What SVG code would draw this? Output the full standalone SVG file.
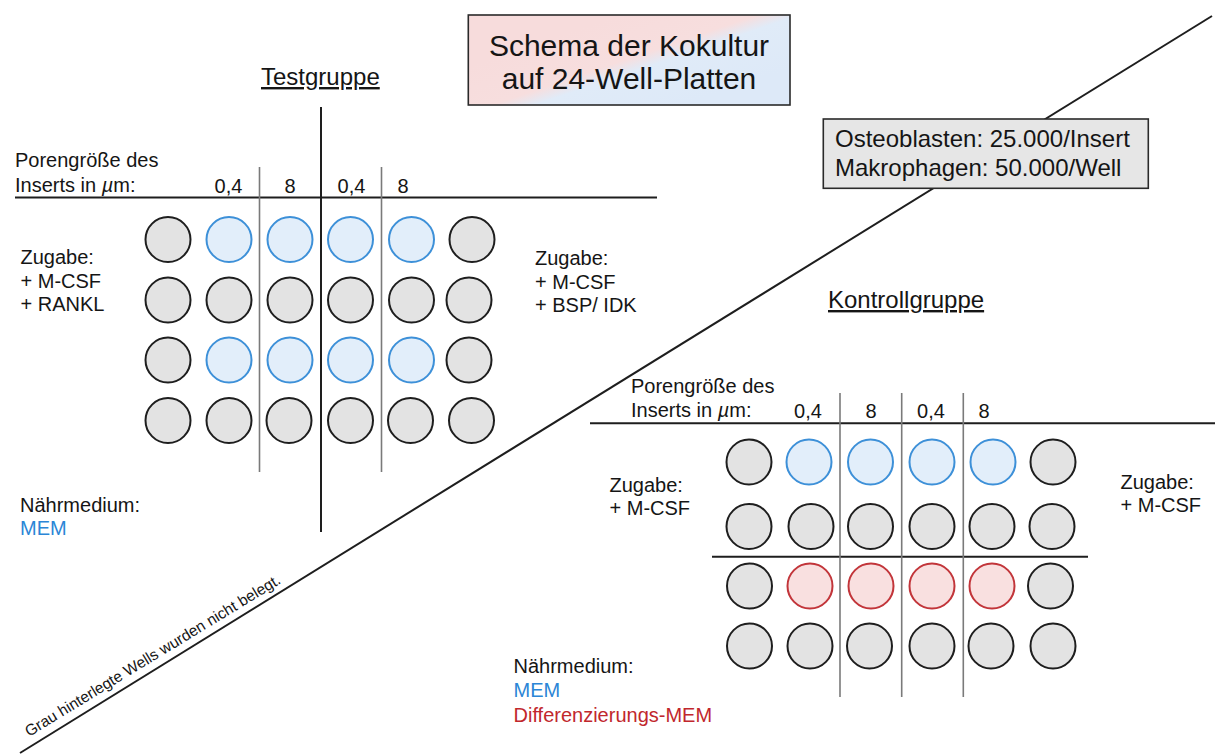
<svg xmlns="http://www.w3.org/2000/svg" width="1215" height="755" viewBox="0 0 1215 755">
<defs>
<style>
.t{font-family:"Liberation Sans",Arial,Helvetica,sans-serif;fill:#151515}
.f20{font-size:20px}
.f24{font-size:24px}
.f30{font-size:30px}
.mid{text-anchor:middle}
.ul{text-decoration:underline}
.blueT{fill:#2b86d6}
.redT{fill:#c1272d}
.w{stroke:#1e1e1e;stroke-width:2;fill:#e3e3e3}
.b{stroke:#3d90d8;stroke-width:2;fill:#e2eefa}
.r{stroke:#c2353a;stroke-width:2;fill:#f9e0e0}
.rule{stroke:#1e1e1e;stroke-width:2;fill:none}
.gray{stroke:#7a7a7a;stroke-width:1.6;fill:none}
.box{stroke:#2a2a2a;stroke-width:1.6}
</style>
<linearGradient id="titleGrad" gradientUnits="userSpaceOnUse" x1="628" y1="12" x2="662" y2="112">
<stop offset="0" stop-color="#f7dcdc"/>
<stop offset="0.42" stop-color="#f7dede"/>
<stop offset="0.55" stop-color="#e0ebf8"/>
<stop offset="1" stop-color="#dde9f8"/>
</linearGradient>
</defs>
<rect width="1215" height="755" fill="#ffffff"/>

<g id="connectors">
<line class="rule" x1="20" y1="753" x2="1212" y2="16" stroke-width="1.8"/>
<!-- Testgruppe grid lines -->
<line class="rule" x1="15" y1="197.5" x2="657" y2="197.5"/>
<line class="rule" x1="321" y1="107" x2="321" y2="532"/>
<line class="gray" x1="259.5" y1="167" x2="259.5" y2="472"/>
<line class="gray" x1="381.5" y1="167" x2="381.5" y2="472"/>
<!-- Kontrollgruppe grid lines -->
<line class="rule" x1="590" y1="423.3" x2="1215" y2="423.3"/>
<line class="rule" x1="712" y1="556.7" x2="1088" y2="556.7"/>
<line class="gray" x1="840" y1="393" x2="840" y2="697"/>
<line class="gray" x1="901.7" y1="393" x2="901.7" y2="697"/>
<line class="gray" x1="963.3" y1="393" x2="963.3" y2="697"/>
</g>

<g id="title">
<rect class="box" x="468.3" y="15" width="321.7" height="90" fill="url(#titleGrad)"/>
<text class="t f30 mid" x="629" y="56">Schema der Kokultur</text>
<text class="t f30 mid" x="629" y="89">auf 24-Well-Platten</text>
</g>

<g id="info">
<rect class="box" x="823.3" y="119" width="325" height="69.3" fill="#e6e6e6"/>
<text class="t f24" x="835" y="146.7">Osteoblasten: 25.000/Insert</text>
<text class="t f24" x="835" y="176">Makrophagen: 50.000/Well</text>
</g>

<g id="note">
<text class="t" font-size="15.5" transform="translate(29,737) rotate(-31.4)">Grau hinterlegte Wells wurden nicht belegt.</text>
</g>

<g id="testgruppe">
<text class="t f24 ul" x="261" y="85">Testgruppe</text>
<text class="t f20" x="15" y="167">Porengröße des</text>
<text class="t f20" x="15" y="192">Inserts in <tspan font-style="italic">µ</tspan>m:</text>
<text class="t f20 mid" x="228.5" y="193">0,4</text>
<text class="t f20 mid" x="290" y="193">8</text>
<text class="t f20 mid" x="351.5" y="193">0,4</text>
<text class="t f20 mid" x="403" y="193">8</text>
<text class="t f20" x="20.5" y="264">Zugabe:</text>
<text class="t f20" x="20.5" y="287.5">+ M-CSF</text>
<text class="t f20" x="20.5" y="311">+ RANKL</text>
<text class="t f20" x="535" y="265">Zugabe:</text>
<text class="t f20" x="535" y="288.5">+ M-CSF</text>
<text class="t f20" x="535" y="312">+ BSP/ IDK</text>
<text class="t f20" x="20" y="511.5">Nährmedium:</text>
<text class="t f20 blueT" x="20" y="535">MEM</text>
<g id="test-wells">
<circle class="w" cx="168" cy="239.5" r="22.5"/>
<circle class="b" cx="229" cy="239.5" r="22.5"/>
<circle class="b" cx="290" cy="239.5" r="22.5"/>
<circle class="b" cx="350.5" cy="239.5" r="22.5"/>
<circle class="b" cx="411.5" cy="239.5" r="22.5"/>
<circle class="w" cx="472" cy="239.5" r="22.5"/>
<circle class="w" cx="168" cy="300" r="22.5"/>
<circle class="w" cx="229" cy="300" r="22.5"/>
<circle class="w" cx="290" cy="300" r="22.5"/>
<circle class="w" cx="350.5" cy="300" r="22.5"/>
<circle class="w" cx="411.5" cy="300" r="22.5"/>
<circle class="w" cx="469" cy="300" r="22.5"/>
<circle class="w" cx="168" cy="360" r="22.5"/>
<circle class="b" cx="229" cy="360" r="22.5"/>
<circle class="b" cx="290" cy="360" r="22.5"/>
<circle class="b" cx="350.5" cy="360" r="22.5"/>
<circle class="b" cx="411.5" cy="360" r="22.5"/>
<circle class="w" cx="469" cy="360" r="22.5"/>
<circle class="w" cx="168" cy="420.5" r="22.5"/>
<circle class="w" cx="229" cy="420.5" r="22.5"/>
<circle class="w" cx="289" cy="420.5" r="22.5"/>
<circle class="w" cx="350.5" cy="420.5" r="22.5"/>
<circle class="w" cx="410.5" cy="420.5" r="22.5"/>
<circle class="w" cx="471.5" cy="420.5" r="22.5"/>
</g>
</g>

<g id="kontrollgruppe">
<text class="t f24 ul" x="828" y="308">Kontrollgruppe</text>
<text class="t f20" x="631" y="393">Porengröße des</text>
<text class="t f20" x="631" y="417">Inserts in <tspan font-style="italic">µ</tspan>m:</text>
<text class="t f20 mid" x="808" y="417.5">0,4</text>
<text class="t f20 mid" x="871" y="417.5">8</text>
<text class="t f20 mid" x="931" y="417.5">0,4</text>
<text class="t f20 mid" x="984" y="417.5">8</text>
<text class="t f20" x="609.5" y="491.5">Zugabe:</text>
<text class="t f20" x="609.5" y="515">+ M-CSF</text>
<text class="t f20" x="1120.5" y="488.5">Zugabe:</text>
<text class="t f20" x="1120.5" y="512">+ M-CSF</text>
<text class="t f20" x="513.5" y="672.5">Nährmedium:</text>
<text class="t f20 blueT" x="513.5" y="697">MEM</text>
<text class="t f20 redT" x="513.5" y="721.5">Differenzierungs-MEM</text>
<g id="control-wells">
<circle class="w" cx="749" cy="462" r="22.5"/>
<circle class="b" cx="809" cy="462" r="22.5"/>
<circle class="b" cx="870.5" cy="462" r="22.5"/>
<circle class="b" cx="932" cy="462" r="22.5"/>
<circle class="b" cx="993" cy="462" r="22.5"/>
<circle class="w" cx="1053" cy="462" r="22.5"/>
<circle class="w" cx="749" cy="526.5" r="22.5"/>
<circle class="w" cx="811" cy="526.5" r="22.5"/>
<circle class="w" cx="870.5" cy="526.5" r="22.5"/>
<circle class="w" cx="932" cy="526.5" r="22.5"/>
<circle class="w" cx="992" cy="526.5" r="22.5"/>
<circle class="w" cx="1052" cy="526.5" r="22.5"/>
<circle class="w" cx="749.5" cy="586" r="22.5"/>
<circle class="r" cx="810" cy="586" r="22.5"/>
<circle class="r" cx="871" cy="586" r="22.5"/>
<circle class="r" cx="932" cy="586" r="22.5"/>
<circle class="r" cx="992" cy="586" r="22.5"/>
<circle class="w" cx="1050.5" cy="586" r="22.5"/>
<circle class="w" cx="749.5" cy="646" r="22.5"/>
<circle class="w" cx="810" cy="646" r="22.5"/>
<circle class="w" cx="869.5" cy="646" r="22.5"/>
<circle class="w" cx="932" cy="646" r="22.5"/>
<circle class="w" cx="991" cy="646" r="22.5"/>
<circle class="w" cx="1053" cy="646" r="22.5"/>
</g>
</g>
</svg>
